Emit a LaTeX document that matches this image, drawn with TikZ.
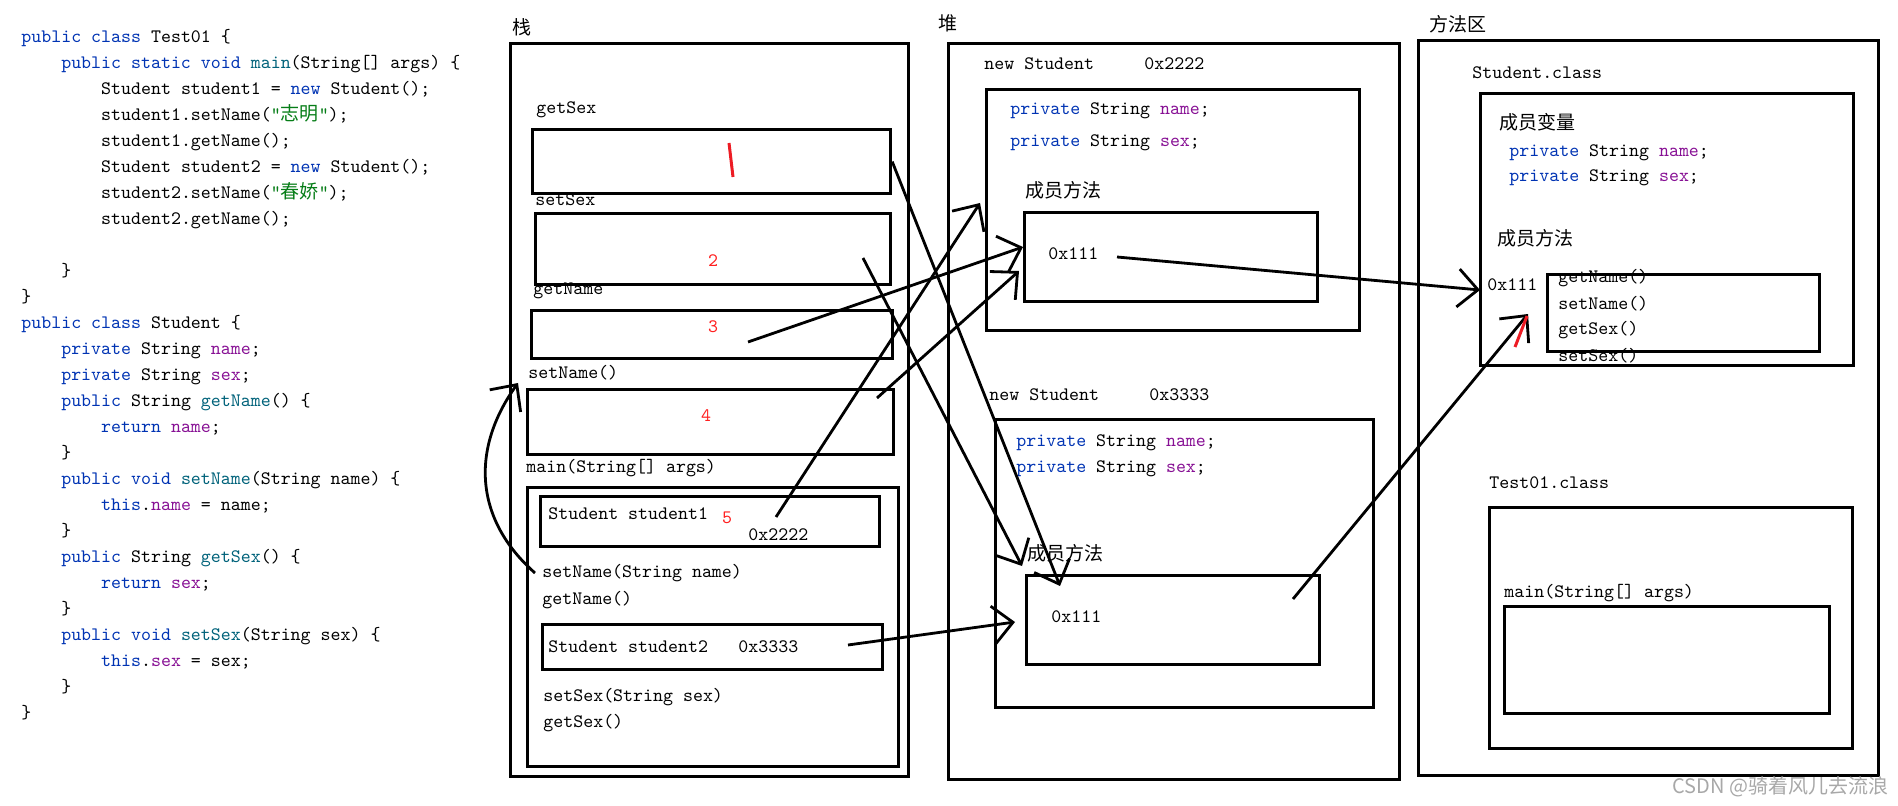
\documentclass[tikz,border=0pt]{standalone}
\usepackage{fontspec}
\newfontfamily\cjk{Noto Sans CJK SC}
\usetikzlibrary{arrows.meta}

\definecolor{jkw}{HTML}{0033B3}
\definecolor{jfd}{HTML}{871094}
\definecolor{jmt}{HTML}{00627A}
\definecolor{jst}{HTML}{067D17}
\definecolor{numred}{HTML}{FF1F1F}
\definecolor{redpen}{HTML}{ED1C24}
\definecolor{wmgray}{HTML}{A8A8A8}

\newcommand\jkw[1]{\textcolor{jkw}{#1}}
\newcommand\jfd[1]{\textcolor{jfd}{#1}}
\newcommand\jmt[1]{\textcolor{jmt}{#1}}
\newcommand\jst[1]{\textcolor{jst}{#1}}
\newcommand\ind{\phantom{xxxx}}
\newcommand\codefont{\fontsize{9.5pt}{12.99pt}\selectfont\ttfamily}
\newcommand\hanfont{\fontsize{9.5pt}{12pt}\selectfont\cjk}
\newcommand\pfield[1]{\jkw{private} String \jfd{#1};}

\tikzset{
  txt/.style={anchor=west, inner sep=0pt, font=\codefont},
  han/.style={anchor=west, inner sep=0pt, font=\hanfont},
  num/.style={inner sep=0pt, font=\codefont, text=numred},
  membox/.style 2 args={draw, line width=1.6pt, inner sep=0pt, anchor=north west,
    minimum width=#1*0.5pt, minimum height=#2*0.5pt},
  ptr/.style={line width=1.4pt, -{Straight Barb[length=10pt,width=19pt]}},
  tick/.style={draw=redpen, line width=1.5pt},
}

\begin{document}
\begin{tikzpicture}[x=0.5pt, y=-0.5pt]
\useasboundingbox (0,0) rectangle (1898,806);

\node[font=\codefont, align=left, anchor=north west, inner sep=0pt] (src) at (21,29) {%
\jkw{public class} Test01 \{\\
\ind\jkw{public static void} \jmt{main}(String[] args) \{\\
\ind\ind Student student1 = \jkw{new} Student();\\
\ind\ind student1.setName(\jst{"{\cjk 志明}"});\\
\ind\ind student1.getName();\\
\ind\ind Student student2 = \jkw{new} Student();\\
\ind\ind student2.setName(\jst{"{\cjk 春娇}"});\\
\ind\ind student2.getName();\\
\mbox{}\\
\ind\}\\
\}\\
\jkw{public class} Student \{\\
\ind\jkw{private} String \jfd{name};\\
\ind\jkw{private} String \jfd{sex};\\
\ind\jkw{public} String \jmt{getName}() \{\\
\ind\ind\jkw{return} \jfd{name};\\
\ind\}\\
\ind\jkw{public void} \jmt{setName}(String name) \{\\
\ind\ind\jkw{this}.\jfd{name} = name;\\
\ind\}\\
\ind\jkw{public} String \jmt{getSex}() \{\\
\ind\ind\jkw{return} \jfd{sex};\\
\ind\}\\
\ind\jkw{public void} \jmt{setSex}(String sex) \{\\
\ind\ind\jkw{this}.\jfd{sex} = sex;\\
\ind\}\\
\}};

\node[han] (zhan) at (512,27) {栈};
\node[membox={398}{733}] (stack) at (509,42) {};
\node[txt] (lgetsex) at (536,110) {getSex};
\node[membox={358}{64}] (getsex) at (531,128) {};
\node[txt] (lsetsex) at (535,200) {setSex};
\node[membox={355}{71}] (setsex) at (534,212) {};
\node[num] (n2) at (713,261) {2};
\node[txt] (lgetname) at (533,291) {getName};
\node[membox={361}{48}] (getname) at (530,309) {};
\node[num] (n3) at (713,327) {3};
\node[txt] (lsetname) at (528,373) {setName()};
\node[membox={366}{65}] (setname) at (526,388) {};
\node[num] (n4) at (706,416) {4};
\node[txt] (lmain) at (526,468) {main(String[] args)};
\node[membox={371}{279}] (mainf) at (526,486) {};
\node[membox={339}{50}] (stu1) at (539,495) {};
\node[txt] (lstu1) at (548,514) {Student student1};
\node[num] (n5) at (727,518) {5};
\node[txt] (adr1) at (748,535) {0x2222};
\node[txt] (callsn) at (542,573) {setName(String name)};
\node[txt] (callgn) at (542,600) {getName()};
\node[membox={340}{45}] (stu2) at (541,623) {};
\node[txt] (lstu2) at (548,647) {Student student2};
\node[txt] (adr2) at (738,647) {0x3333};
\node[txt] (callss) at (543,697) {setSex(String sex)};
\node[txt] (callgs) at (543,723) {getSex()};

\node[han] (dui) at (938,23) {堆};
\node[membox={451}{736}] (heap) at (947,42) {};
\node[txt] (new1) at (984,64) {new Student};
\node[txt] (hadr1) at (1144,64) {0x2222};
\node[membox={373}{241}] (obj1) at (985,88) {};
\node[txt] (o1name) at (1010,111) {\pfield{name}};
\node[txt] (o1sex) at (1010,143) {\pfield{sex}};
\node[han] (o1m) at (1025,190) {成员方法};
\node[membox={293}{89}] (meth1) at (1023,211) {};
\node[txt] (m1adr) at (1048,254) {0x111};
\node[txt] (new2) at (989,395) {new Student};
\node[txt] (hadr2) at (1149,395) {0x3333};
\node[membox={378}{288}] (obj2) at (994,418) {};
\node[txt] (o2name) at (1016,443) {\pfield{name}};
\node[txt] (o2sex) at (1016,469) {\pfield{sex}};
\node[han] (o2m) at (1027,553) {成员方法};
\node[membox={293}{89}] (meth2) at (1025,574) {};
\node[txt] (m2adr) at (1051,617) {0x111};

\node[han] (fqu) at (1429,24) {方法区};
\node[membox={460}{735}] (marea) at (1417,39) {};
\node[txt] (lstucls) at (1472,73) {Student.class};
\node[membox={373}{272}] (stucls) at (1479,92) {};
\node[han] (cyvar) at (1499,122) {成员变量};
\node[txt] (cname) at (1509,153) {\pfield{name}};
\node[txt] (csex) at (1509,178) {\pfield{sex}};
\node[han] (cym) at (1497,238) {成员方法};
\node[txt] (cadr) at (1487,285) {0x111};
\node[membox={272}{77}] (stumeth) at (1546,273) {};
\node[txt] (cgn) at (1558,278) {getName()};
\node[txt] (csn) at (1558,304) {setName()};
\node[txt] (cgs) at (1558,330) {getSex()};
\node[txt] (css) at (1558,356) {setSex()};
\node[txt] (ltestcls) at (1489,483) {Test01.class};
\node[membox={363}{241}] (testcls) at (1488,506) {};
\node[txt] (ltmain) at (1504,593) {main(String[] args)};
\node[membox={325}{107}] (tmain) at (1503,605) {};

\node[anchor=west, inner sep=0pt, font=\fontsize{10pt}{12pt}\selectfont\cjk, text=wmgray] (wm) at (1672,787) {CSDN @骑着风儿去流浪};

\coordinate (s2) at (863,258);
\coordinate (s3) at (748,342);
\coordinate (s4) at (877,398);
\coordinate (s5) at (776,517);
\coordinate (s6) at (848,645);
\coordinate (s7) at (1117,257);
\coordinate (s8) at (1293,599);
\coordinate (snc) at (535,573);
\coordinate (t1) at (1060,586);
\coordinate (t2) at (1022,566);
\coordinate (t3) at (1023,247);
\coordinate (t4) at (1019,271);
\coordinate (t5) at (980,203);
\coordinate (t6) at (1015,622);
\coordinate (t7) at (1480,290);
\coordinate (t8) at (1528,314);
\coordinate (tsn) at (518,383);

\path[ptr] (getsex.east) edge (t1);
\path[ptr] (s2) edge (t2);
\path[ptr] (s3) edge (t3);
\path[ptr] (s4) edge (t4);
\path[ptr] (s5) edge (t5);
\path[ptr] (s6) edge (t6);
\path[ptr] (s7) edge (t7);
\path[ptr] (s8) edge (t8);
\draw[ptr] (snc) .. controls (475,520) and (470,450) .. (tsn);

\draw[tick] (729,143) -- (733,177);
\draw[tick] (1515,347) -- (1527,316);
\end{tikzpicture}
\end{document}
